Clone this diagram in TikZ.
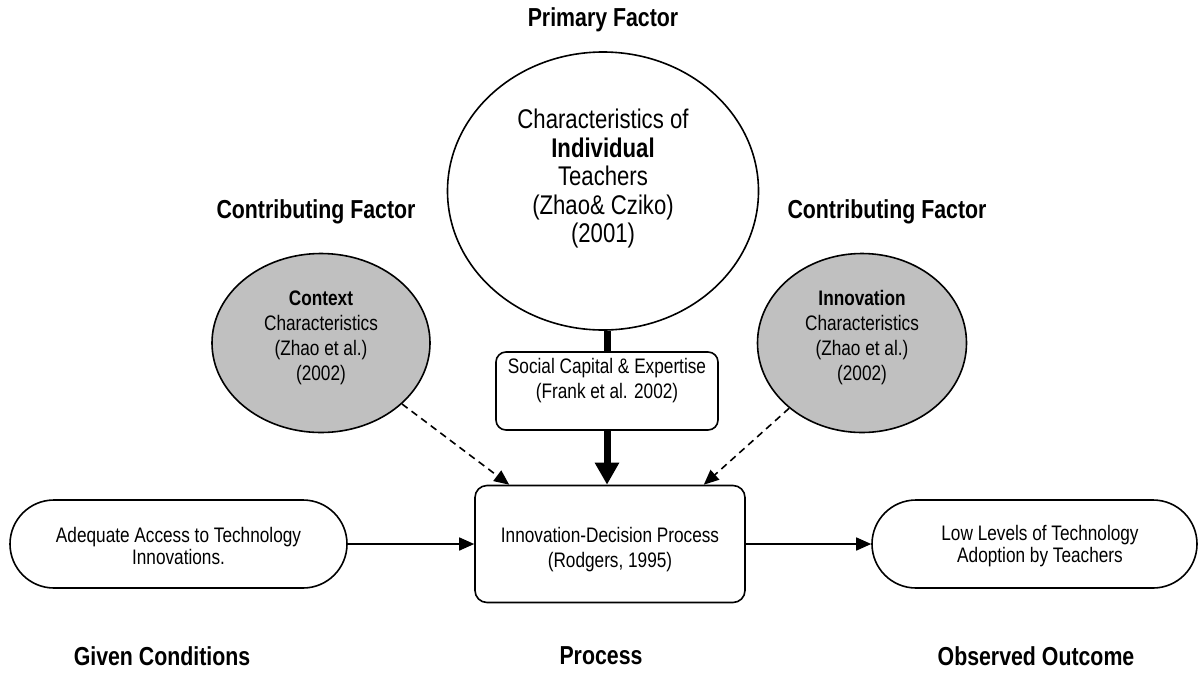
\documentclass[tikz,border=0pt]{standalone}
\usepackage{fontspec}
\setmainfont{Liberation Sans}[FakeStretch=0.82]
\usetikzlibrary{shapes.geometric,arrows.meta}
\definecolor{shade}{RGB}{192,192,192}

\begin{document}
\begin{tikzpicture}[x=1pt,y=-1pt, line width=1.6pt,
  heading/.style={font=\fontsize{26}{30}\selectfont\bfseries, inner sep=0},
  big/.style={font=\fontsize{27}{28.5}\selectfont, align=center, inner sep=0},
  small/.style={font=\fontsize{21}{25}\selectfont, align=center, inner sep=0},
  smaller/.style={font=\fontsize{21}{22.5}\selectfont, align=center, inner sep=0},
  oval/.style={ellipse, draw, inner sep=0},
  factor/.style={oval, fill=shade},
  card/.style={draw, rounded corners=10pt, inner sep=0},
  pill/.style={draw, rounded corners=44pt, inner sep=0, minimum height=88pt},
  flow/.style={-{Triangle[length=15pt,width=13pt]}},
  hint/.style={flow, dash pattern=on 7pt off 5pt},
  heavy/.style={line width=7pt},
]
\useasboundingbox (0,0) rectangle (1199,673);

% headings
\node[heading] (primary) at (603,20) {Primary Factor};
\node[heading] (contrib-left) at (316,212) {Contributing Factor};
\node[heading] (contrib-right) at (887,212) {Contributing Factor};
\node[heading] (given) at (162,656) {Given Conditions};
\node[heading] (process-label) at (601,656) {Process};
\node[heading] (outcome-label) at (1036,656) {Observed Outcome};

% primary factor
\node[oval, minimum width=311pt, minimum height=278pt] (teachers) at (603,191) {};
\node[big] (teachers-text) at (603,179) {Characteristics of\\\textbf{Individual}\\Teachers\\(Zhao\& Cziko)\\(2001)};

% contributing factors
\node[factor, minimum width=218pt, minimum height=179pt] (context) at (321,343) {};
\node[small] (context-text) at (321,337.5) {\textbf{Context}\\Characteristics\\(Zhao et al.)\\(2002)};
\node[factor, minimum width=209pt, minimum height=179pt] (innovation) at (862,343) {};
\node[small] (innovation-text) at (862,337.5) {\textbf{Innovation}\\Characteristics\\(Zhao et al.)\\(2002)};

% mediator
\node[card, minimum width=222pt, minimum height=78pt] (social) at (607,391) {};
\node[small] (social-text) at (607,380.5) {Social Capital \& Expertise\\(Frank et al. 2002)};

% process
\node[card, rounded corners=12pt, minimum width=270pt, minimum height=117pt] (process) at (610,544) {};
\node[small] (process-text) at (610,549.5) {Innovation-Decision Process\\(Rodgers, 1995)};

% conditions and outcome
\node[pill, minimum width=337pt] (access) at (178.5,544) {};
\node[smaller] (access-text) at (178.5,546) {Adequate Access to Technology\\Innovations.};
\node[pill, minimum width=325pt] (outcome) at (1034.5,544) {};
\node[smaller] (outcome-text) at (1040,546) {Low Levels of Technology\\Adoption by Teachers};

% connectors
\draw[heavy] (social.north |- teachers.south) -- (social.north);
\draw[heavy, -{Triangle[length=22pt,width=23pt]}] (social.south) -- (social.south |- process.north);
\draw[hint] (context) -- ([xshift=35pt]process.north west);
\draw[hint] (innovation) -- ([xshift=-42pt]process.north east);
\draw[flow] (access.east) -- (process.west);
\draw[flow] (process.east) -- (outcome.west);
\end{tikzpicture}
\end{document}
